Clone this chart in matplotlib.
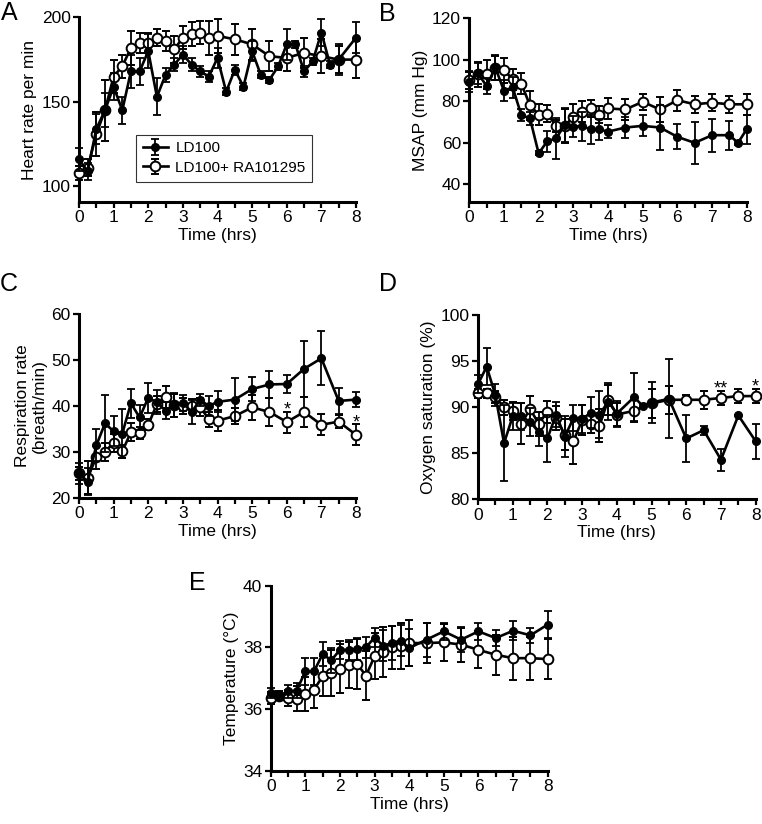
import matplotlib
matplotlib.use("Agg")
import matplotlib.pyplot as plt
import numpy as np

plt.rcParams['font.family'] = ['Liberation Sans', 'DejaVu Sans']

# ---- data ----
# panel A: heart rate
tA_ld = [0, 0.25, 0.5, 0.75, 1, 1.25, 1.5, 1.75, 2, 2.25, 2.5, 2.75, 3, 3.25, 3.5, 3.75,
         4, 4.25, 4.5, 4.75, 5, 5.25, 5.5, 5.75, 6, 6.25, 6.5, 6.75, 7, 7.25, 7.5, 8]
hr_ld = [116, 109, 134, 145, 159, 145, 168, 168, 180, 153, 166, 172, 178, 172, 168, 165,
         176, 156, 169, 159, 180, 166, 163, 171, 184, 184, 168, 174, 191, 172, 175, 188]
hr_ld_err = [7, 5, 9, 10, 8, 8, 10, 8, 10, 11, 4, 4, 5, 4, 3, 3,
             6, 2, 3, 2, 6, 2, 2, 2, 9, 2, 3, 2, 8, 2, 9, 9]
tA_ra = [0, 0.25, 0.5, 0.75, 1, 1.25, 1.5, 1.75, 2, 2.25, 2.5, 2.75, 3, 3.25, 3.5, 3.75,
         4, 4.5, 5, 5.5, 6, 6.5, 7, 7.5, 8]
hr_ra = [108, 111, 131, 145, 165, 171, 182, 185, 185, 188, 186, 181, 188, 190, 191, 188,
         189, 187, 184, 177, 176, 179, 177, 175, 175]
hr_ra_err = [4, 5, 13, 18, 10, 7, 10, 6, 6, 5, 6, 8, 7, 7, 7, 10,
             10, 9, 9, 9, 8, 9, 10, 8, 11]

# common time grid for B-E
t_ra = [0, 0.25, 0.5, 0.75, 1, 1.25, 1.5, 1.75, 2, 2.25, 2.5, 2.75, 3, 3.25, 3.5, 3.75,
        4, 4.5, 5, 5.5, 6, 6.5, 7, 7.5, 8]

# panel B: MSAP
tB_ld = t_ra[:-1] + [7.75, 8]
map_ld = [89.4, 93.4, 87.3, 96.3, 85, 86.7, 73.3, 71.7, 54.8, 60.7, 62, 68.5, 67.7, 68, 66.4, 66.4,
          65.3, 67.3, 68.1, 67.3, 62.8, 59.9, 63.6, 63.6, 59.9, 66.5]
map_ld_err = [5, 5, 4, 6, 5, 5, 3, 3, 1, 5, 10, 8, 5, 7, 7, 5,
              3, 5, 5, 11, 6, 10, 8, 7, 1, 7]
map_ra = [90, 93, 93, 96, 95, 90.5, 88.5, 78, 73.5, 74, 68, 68, 72.5, 75, 76.5, 73.5,
          76.5, 76, 79.7, 76, 80.5, 78.5, 79.3, 78.5, 78.5]
map_ra_err = [4, 6, 7, 6, 6, 5, 5, 7, 5, 4, 3, 8, 6, 5, 4, 4,
              5, 5, 4, 6, 5, 4, 4, 4, 5]

# panel C: respiration rate
rr_ld = [25.3, 23.5, 31.4, 36.2, 34.5, 34.0, 40.6, 37.5, 41.8, 40.8, 39.0, 40.3, 40.7, 38.7, 41.3, 40.0,
         40.9, 41.4, 43.7, 44.7, 44.8, 48.1, 50.4, 41.1, 41.4]
rr_ld_err = [2.3, 3.0, 3.5, 6.3, 3.3, 5.3, 3.2, 2.7, 3.3, 2.6, 1.8, 2.6, 1.8, 2.6, 1.3, 2.2,
             2.3, 4.7, 2.7, 3.0, 2.0, 6.1, 5.9, 2.9, 1.6]
rr_ra = [25.3, 24.4, 28.8, 30.0, 32.0, 30.1, 34.3, 34.2, 35.9, 40.4, 42.0, 40.2, 40.0, 40.0, 39.8, 37.1,
         36.8, 37.8, 39.7, 38.7, 36.5, 38.7, 35.9, 36.6, 33.7]
rr_ra_err = [1.5, 3.5, 2.5, 2.0, 2.0, 1.4, 2.0, 1.3, 1.2, 1.8, 2.4, 2.5, 1.7, 1.5, 2.0, 1.7,
             2.3, 1.8, 2.7, 3.0, 2.3, 3.2, 2.3, 1.5, 2.3]

# panel D: oxygen saturation
tD_ld = t_ra[:18] + [4.75] + t_ra[18:]
sat_ld = [92.5, 94.4, 91.3, 86.1, 89.0, 89.0, 88.4, 87.3, 86.6, 89.2, 86.8, 88.8, 88.7, 89.4, 89.2, 90.6,
          89.3, 91.1, 90.1, 90.5, 90.9, 86.6, 87.5, 84.3, 89.1, 86.3]
sat_ld_err = [1.0, 2.0, 1.2, 4.1, 1.5, 1.5, 1.5, 1.5, 2.6, 1.4, 2.2, 1.4, 1.5, 1.7, 2.6, 2.0,
              1.4, 2.6, 0.2, 2.2, 4.3, 2.6, 0.5, 1.2, 0.0, 1.9]
sat_ra = [91.5, 91.5, 91.1, 90.0, 89.6, 88.2, 89.8, 88.2, 89.5, 88.8, 87.0, 86.3, 88.6, 88.2, 88.0, 90.8,
          89.2, 89.6, 90.4, 90.8, 90.8, 90.8, 91.0, 91.2, 91.2]
sat_ra_err = [0.5, 0.5, 0.6, 0.8, 1.0, 2.2, 1.4, 1.3, 1.2, 1.3, 1.7, 2.5, 1.6, 1.0, 1.8, 1.6,
              1.2, 1.2, 1.6, 1.5, 0.5, 1.0, 0.8, 0.8, 0.8]

# panel E: temperature
temp_ld = [36.52, 36.41, 36.57, 36.6, 37.22, 37.22, 37.78, 37.58, 37.92, 37.92, 37.95, 38.0, 38.32, 38.05, 38.14, 38.22,
           37.98, 38.25, 38.52, 38.25, 38.52, 38.3, 38.54, 38.39, 38.74]
temp_ld_err = [0.15, 0.12, 0.2, 0.25, 0.45, 0.45, 0.4, 0.4, 0.3, 0.32, 0.35, 0.35, 0.3, 0.5, 0.55, 0.5,
               0.6, 0.55, 0.27, 0.4, 0.28, 0.25, 0.3, 0.25, 0.45]
temp_ra = [36.36, 36.43, 36.36, 36.34, 36.5, 36.63, 37.06, 37.17, 37.31, 37.42, 37.46, 37.08, 37.71, 37.85, 38.0, 38.05,
           38.14, 38.14, 38.16, 38.09, 37.92, 37.76, 37.65, 37.65, 37.62]
temp_ra_err = [0.2, 0.15, 0.25, 0.4, 0.55, 0.6, 0.65, 0.75, 0.8, 0.75, 0.8, 0.8, 0.75, 0.8, 0.7, 0.75,
               0.75, 0.65, 0.6, 0.55, 0.6, 0.65, 0.7, 0.7, 0.65]

W, H = 762, 824
fig = plt.figure(figsize=(W / 100, H / 100), dpi=100)


def px_axes(left, right, top, bottom):
    return fig.add_axes([left / W, 1 - bottom / H, (right - left) / W, (bottom - top) / H])


def draw(ax, t1, y1, e1, t2, y2, e2, ylim, yticks, ylabel):
    kw = dict(color='black', lw=1.9, capsize=3, elinewidth=1.3, capthick=1.3, clip_on=False)
    c2 = ax.errorbar(t2, y2, yerr=e2, fmt='-o', ms=7, mfc='white', mec='black', mew=1.4,
                     label='LD100+ RA101295', zorder=3, **kw)
    c1 = ax.errorbar(t1, y1, yerr=e1, fmt='-o', ms=5.5, mfc='black', mec='black',
                     label='LD100', zorder=4, **kw)
    for c in (c1, c2):
        for art in c.get_children():
            art.set_clip_on(False)
    ax.set_xlim(0, 8)
    ax.set_ylim(*ylim)
    ax.set_yticks(yticks)
    ax.set_xticks(np.arange(0, 8.01, 0.5))
    ax.set_xticklabels([str(int(v)) if v == int(v) else '' for v in np.arange(0, 8.01, 0.5)])
    for s in ('top', 'right'):
        ax.spines[s].set_visible(False)
    for s in ('left', 'bottom'):
        ax.spines[s].set_linewidth(2.2)
    ax.tick_params(direction='out', length=4, width=1.6, labelsize=12.5, pad=2)
    ax.set_xlabel('Time (hrs)', fontsize=12.5, labelpad=2)
    ax.set_ylabel(ylabel, fontsize=12.5, labelpad=3)
    return c1, c2


axA = px_axes(79, 356, 17.3, 201.7)
c1, c2 = draw(axA, tA_ld, hr_ld, hr_ld_err, tA_ra, hr_ra, hr_ra_err,
              (91, 200), [100, 150, 200], 'Heart rate per min')
leg = axA.legend([c1, c2], ['LD100', 'LD100+ RA101295'], loc='upper left',
                 bbox_to_anchor=(0.207, 0.364), fontsize=11, frameon=True, fancybox=False,
                 edgecolor='black', borderpad=0.45, handlelength=1.6, handletextpad=0.5,
                 labelspacing=0.35, borderaxespad=0)
leg.get_frame().set_linewidth(0.8)

axB = px_axes(469.3, 746.7, 18.3, 201.7)
draw(axB, tB_ld, map_ld, map_ld_err, t_ra, map_ra, map_ra_err,
     (31.5, 120), [40, 60, 80, 100, 120], 'MSAP (mm Hg)')

axC = px_axes(79, 356, 314.3, 497.7)
draw(axC, t_ra, rr_ld, rr_ld_err, t_ra, rr_ra, rr_ra_err,
     (20, 60), [20, 30, 40, 50, 60], 'Respiration rate\n(breath/min)')
axC.text(6, 38.2, '*', ha='center', va='baseline', fontsize=13, zorder=10)
axC.text(8, 35.4, '*', ha='center', va='baseline', fontsize=13, zorder=10)

axD = px_axes(478, 755.7, 315, 499.3)
draw(axD, tD_ld, sat_ld, sat_ld_err, t_ra, sat_ra, sat_ra_err,
     (80, 100), [80, 85, 90, 95, 100], 'Oxygen saturation (%)')
axD.text(7, 91.45, '**', ha='center', va='baseline', fontsize=13, zorder=10)
axD.text(8, 91.65, '*', ha='center', va='baseline', fontsize=13, zorder=10)

axE = px_axes(270.7, 547.7, 585.7, 770.7)
draw(axE, t_ra, temp_ld, temp_ld_err, t_ra, temp_ra, temp_ra_err,
     (34, 40), [34, 36, 38, 40], 'Temperature (°C)')

for lab, x, y in [('A', 1, 1), ('B', 379, 2), ('C', 0, 272), ('D', 379, 272), ('E', 189, 571)]:
    fig.text(x / W, 1 - y / H, lab, fontsize=18, ha='left', va='top')

fig.savefig('out.png', dpi=100)
